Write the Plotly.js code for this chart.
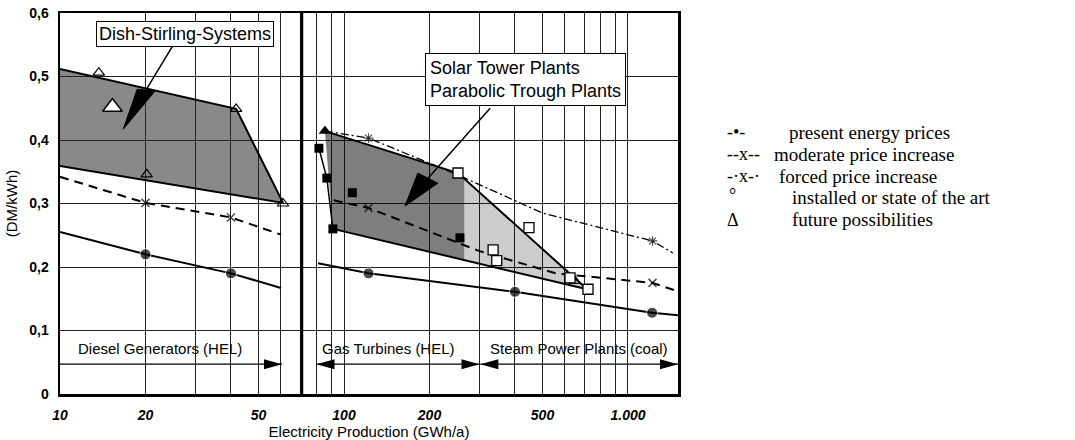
<!DOCTYPE html>
<html>
<head>
<meta charset="utf-8">
<script src="https://cdn.plot.ly/plotly-3.0.1.min.js"></script>
<style>html,body{margin:0;padding:0;background:#fff;}#chart{width:1075px;height:440px;}</style>
</head>
<body>
<div id="chart"></div>
<script>
// ---- data ----
const xTickVals = [10,20,30,40,50,60,70,80,90,100,200,300,400,500,600,700,800,900,1000];
const xTickText = ['10','20','','','50','','','','','100','200','','','500','','','','','1.000'];
const yTickVals = [0,0.1,0.2,0.3,0.4,0.5,0.6];
const yTickText = ['0','0,1','0,2','0,3','0,4','0,5','0,6'];

const dieselX = [10, 20, 40, 60];
const dieselPresent = [0.255, 0.22, 0.19, 0.167];
const dieselModerate = [0.342, 0.301, 0.278, 0.251];

const gasPresentX = [81, 122, 400, 1216, 1500];
const gasPresent = [0.206, 0.19, 0.161, 0.128, 0.124];
const gasModerateX = [92, 122, 300, 557, 1220, 1490];
const gasModerate = [0.305, 0.293, 0.225, 0.19, 0.175, 0.162];
const gasForcedX = [85.7, 122, 252, 500, 1220, 1440];
const gasForced = [0.414, 0.403, 0.345, 0.285, 0.241, 0.222];

const dishX = [10, 41.7, 61, 10];
const dishY = [0.512, 0.449, 0.301, 0.359];
const solarX = [85.7, 252, 718, 91.4];
const solarY = [0.414, 0.348, 0.165, 0.26];
const solarDenseX = [85.7, 252, 265, 265, 91.4];
const solarDenseY = [0.414, 0.348, 0.339, 0.211, 0.26];
const solarEdgeX = [81.6, 87, 91.4];
const solarEdgeY = [0.387, 0.34, 0.26];

const futureX = [13.7, 20.2, 41.7, 61, 650];
const futureY = [0.506, 0.346, 0.449, 0.30, 0.178];
const futureBigX = [15.3];
const futureBigY = [0.452];
const futureFilledX = [85.7];
const futureFilledY = [0.414];
const installedOpenX = [252, 335, 345, 448, 625, 723];
const installedOpenY = [0.348, 0.227, 0.21, 0.262, 0.183, 0.165];
const installedFilledX = [81.6, 87, 91.4, 107, 256];
const installedFilledY = [0.387, 0.34, 0.26, 0.317, 0.246];

const separatorX = 71;
const rangeY = 0.047;
const rangeNames = ['Diesel Generators (HEL)', 'Gas Turbines (HEL)', 'Steam Power Plants (coal)'];
const rangeFrom = [10, 80, 302];
const rangeTo = [60.5, 300, 1500];
const rangeStartArrow = [false, true, true];

const legendSymbols = ['-•-', '--x--', '-·x-·', '°', 'Δ'];
const legendLabels = ['present energy prices', 'moderate price increase', 'forced price increase',
                      'installed or state of the art', 'future possibilities'];

// ---- layout helpers (pixel -> paper) ----
const L = 60, T = 13, W = 618, H = 381;
const px = v => (v - L) / W;
const py = v => (T + H - v) / H;
const lg = Math.log10;

const black = '#000';
const traces = [];

// shaded regions
traces.push({x: dishX, y: dishY, mode: 'lines', fill: 'toself', fillcolor: 'rgba(40,40,40,0.55)',
  line: {color: black, width: 2}});
traces.push({x: solarX, y: solarY, mode: 'lines', fill: 'toself', fillcolor: 'rgba(0,0,0,0.2)',
  line: {color: black, width: 2}});
traces.push({x: solarDenseX, y: solarDenseY, mode: 'none', fill: 'toself', fillcolor: 'rgba(0,0,0,0.38)'});
traces.push({x: solarEdgeX, y: solarEdgeY, mode: 'lines', line: {color: black, width: 1.5}});

// separator
traces.push({x: [separatorX, separatorX], y: [0, 0.6], mode: 'lines', line: {color: black, width: 3}});

// price lines
traces.push({x: dieselX, y: dieselPresent, mode: 'lines+markers', line: {color: black, width: 2},
  marker: {symbol: 'circle', size: [0, 11, 11, 0], color: black}});
traces.push({x: dieselX, y: dieselModerate, mode: 'lines+markers', line: {color: black, width: 2, dash: '9px,6px'},
  marker: {symbol: 'x-thin-open', size: [0, 8, 8, 0], line: {color: black, width: 1.5}}});
traces.push({x: gasPresentX, y: gasPresent, mode: 'lines+markers', line: {color: black, width: 2},
  marker: {symbol: 'circle', size: [0, 11, 11, 11, 0], color: black}});
traces.push({x: gasModerateX, y: gasModerate, mode: 'lines+markers', line: {color: black, width: 2, dash: '9px,6px'},
  marker: {symbol: 'x-thin-open', size: [0, 8, 0, 0, 8, 0], line: {color: black, width: 1.5}}});
traces.push({x: gasForcedX, y: gasForced, mode: 'lines+markers', line: {color: black, width: 1.3, dash: '8px,3px,2px,3px'},
  marker: {symbol: 'asterisk-open', size: [0, 8, 0, 0, 8, 0], line: {color: black, width: 1.2}}});

// point markers
traces.push({x: futureX, y: futureY, mode: 'markers', marker: {symbol: 'triangle-up-open', size: 10, color: black, line: {width: 1.2}}});
traces.push({x: futureBigX, y: futureBigY, mode: 'markers', marker: {symbol: 'triangle-up', size: 17, color: '#fff', line: {width: 1.5, color: black}}});
traces.push({x: futureFilledX, y: futureFilledY, mode: 'markers', marker: {symbol: 'triangle-up', size: 11, color: black}});
traces.push({x: installedOpenX, y: installedOpenY, mode: 'markers', marker: {symbol: 'square', size: 10, color: '#fff', line: {color: black, width: 1.3}}});
traces.push({x: installedFilledX, y: installedFilledY, mode: 'markers', marker: {symbol: 'square', size: 9, color: black}});

// range lines
for (let i = 0; i < rangeFrom.length; i++) {
  traces.push({x: [rangeFrom[i], rangeTo[i]], y: [rangeY, rangeY], mode: 'lines', line: {color: black, width: 1.2}});
}

// callout wedges (decoration)
const calloutDishX = [16.7, 18.7, 21.6, 16.7], calloutDishY = [0.417, 0.480, 0.477, 0.417];
const calloutSolarX = [164, 182, 214, 164], calloutSolarY = [0.296, 0.348, 0.332, 0.296];
traces.push({x: calloutDishX, y: calloutDishY, mode: 'lines', fill: 'toself', fillcolor: black, line: {color: black, width: 1}});
traces.push({x: [20.1, 25], y: [0.479, 0.549], mode: 'lines', line: {color: black, width: 1.5}});
traces.push({x: calloutSolarX, y: calloutSolarY, mode: 'lines', fill: 'toself', fillcolor: black, line: {color: black, width: 1}});
traces.push({x: [198, 327], y: [0.340, 0.450], mode: 'lines', line: {color: black, width: 1.5}});

traces.forEach(t => { t.type = 'scatter'; t.showlegend = false; t.hoverinfo = 'skip'; });

// arrowheads
const shapes = [];
const headR = 'M0,0 L-18,5 L-18,-5 Z', headL = 'M0,0 L18,5 L18,-5 Z';
for (let i = 0; i < rangeFrom.length; i++) {
  shapes.push({type: 'path', xref: 'x', yref: 'y', xsizemode: 'pixel', ysizemode: 'pixel',
    xanchor: rangeTo[i], yanchor: rangeY, path: headR, fillcolor: black, line: {width: 0}});
  if (rangeStartArrow[i]) shapes.push({type: 'path', xref: 'x', yref: 'y', xsizemode: 'pixel', ysizemode: 'pixel',
    xanchor: rangeFrom[i], yanchor: rangeY, path: headL, fillcolor: black, line: {width: 0}});
}

const annotations = [];
// range labels
const rangeLabelPx = [160, 389, 579];
for (let i = 0; i < rangeNames.length; i++) {
  annotations.push({xref: 'paper', yref: 'paper', x: px(rangeLabelPx[i]), y: py(348), text: rangeNames[i],
    showarrow: false, font: {size: 15, color: black}, xanchor: 'center', yanchor: 'middle'});
}
// callout boxes
annotations.push({xref: 'paper', yref: 'paper', x: px(185), y: py(34), text: 'Dish-Stirling-Systems', showarrow: false,
  font: {size: 18, color: black}, bgcolor: '#fff', bordercolor: black, borderwidth: 1, borderpad: 2,
  xanchor: 'center', yanchor: 'middle'});
annotations.push({xref: 'paper', yref: 'paper', x: px(525), y: py(79),
  text: 'Solar Tower Plants<br>Parabolic Trough Plants', align: 'left', showarrow: false,
  font: {size: 18, color: black}, bgcolor: '#fff', bordercolor: black, borderwidth: 1, borderpad: 4,
  xanchor: 'center', yanchor: 'middle'});
// legend
const legSymPx = [725, 725, 725, 727, 725];
const legTextPx = [787, 772, 777, 790, 790];
const legRowPx = [132, 154, 176, 198, 220];
for (let i = 0; i < legendLabels.length; i++) {
  annotations.push({xref: 'paper', yref: 'paper', x: px(legSymPx[i]), y: py(legRowPx[i] - (i === 3 ? 3 : 0)),
    text: legendSymbols[i], showarrow: false, xanchor: 'left', yanchor: 'middle',
    font: {family: 'Liberation Serif, Times New Roman, serif', size: 18, color: black}});
  annotations.push({xref: 'paper', yref: 'paper', x: px(legTextPx[i]), y: py(legRowPx[i]),
    text: legendLabels[i], showarrow: false, xanchor: 'left', yanchor: 'middle',
    font: {family: 'Liberation Serif, Times New Roman, serif', size: 19, color: black}});
}

const layout = {
  width: 1075, height: 440,
  margin: {l: L, r: 1075 - L - W, t: T, b: 440 - T - H},
  paper_bgcolor: '#fff', plot_bgcolor: '#fff',
  font: {family: 'Liberation Sans, Arial, sans-serif', color: black},
  showlegend: false,
  xaxis: {type: 'log', range: [1, lg(1500)], tickvals: xTickVals, ticktext: xTickText,
    showgrid: true, gridcolor: '#222', gridwidth: 1, zeroline: false,
    showline: true, linecolor: black, linewidth: 2.5, mirror: true, ticks: '',
    ticklabelstandoff: 7,
    tickfont: {size: 14, style: 'italic', weight: 'bold', color: black},
    title: {text: 'Electricity Production (GWh/a)', font: {size: 15, color: black}, standoff: 4}},
  yaxis: {range: [0, 0.6], tickvals: yTickVals, ticktext: yTickText,
    showgrid: true, gridcolor: '#222', gridwidth: 1, zeroline: false,
    showline: true, linecolor: black, linewidth: 2.5, mirror: true, ticks: '',
    ticklabelstandoff: 6,
    tickfont: {size: 14, weight: 'bold', color: black},
    title: {text: '(DM/kWh)', font: {size: 15, color: black}, standoff: 8}},
  shapes: shapes,
  annotations: annotations
};

Plotly.newPlot('chart', traces, layout, {displayModeBar: false, staticPlot: true});
</script>
</body>
</html>
